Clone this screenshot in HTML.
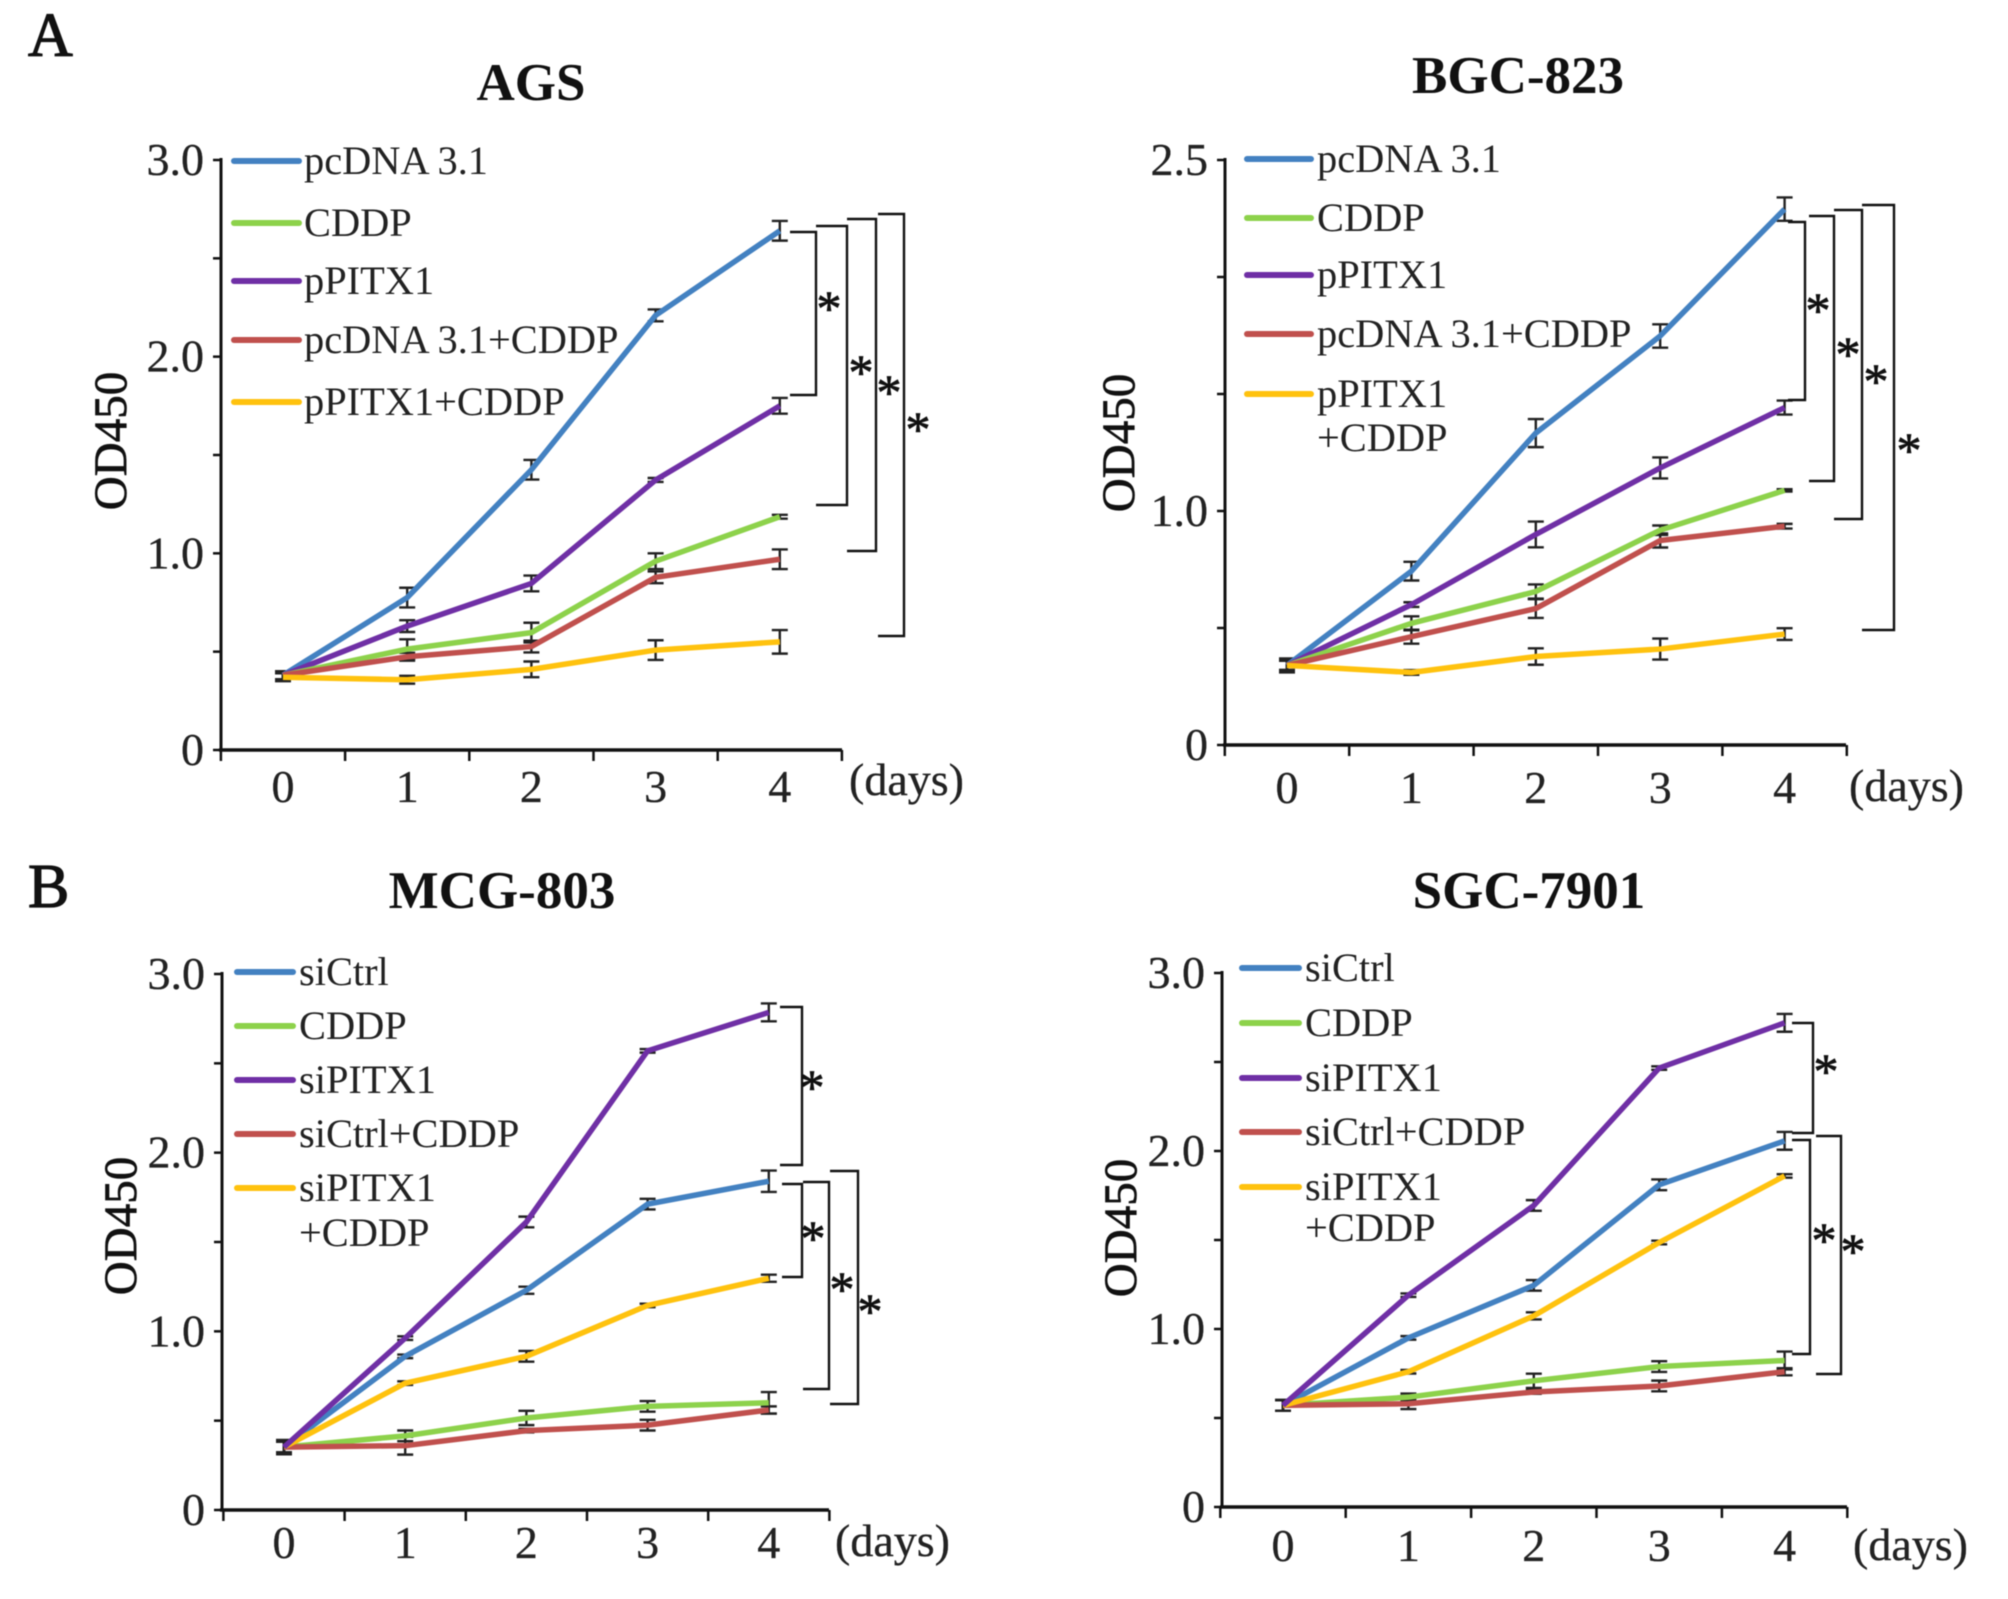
<!DOCTYPE html>
<html lang="en">
<head>
<meta charset="utf-8">
<title>OD450 proliferation curves</title>
<style>
html,body{margin:0;padding:0;background:#fff;}
svg{display:block;font-family:"Liberation Serif",serif;filter:blur(0.6px);}
</style>
</head>
<body>
<svg id="figure" xmlns="http://www.w3.org/2000/svg" width="2008" height="1599" viewBox="0 0 2008 1599"></svg>
<script>
// ---- shared categories ----
const days = [0, 1, 2, 3, 4];

// ---- AGS ----
const agsLabels = ['pcDNA 3.1', 'CDDP', 'pPITX1', 'pcDNA 3.1+CDDP', 'pPITX1+CDDP'];
const agsYTicks = [0, 0.5, 1, 1.5, 2, 2.5, 3];
const agsYLabels = ['0', '', '1.0', '', '2.0', '', '3.0'];
const agsPcdna = [0.38, 0.775, 1.425, 2.21, 2.64];
const agsCddp = [0.38, 0.513, 0.597, 0.96, 1.186];
const agsPitx = [0.38, 0.63, 0.847, 1.373, 1.75];
const agsPcdnaCddp = [0.38, 0.474, 0.526, 0.878, 0.97];
const agsPitxCddp = [0.37, 0.357, 0.41, 0.508, 0.55];
const agsPcdnaErr = [0.02, 0.05, 0.05, 0.03, 0.05];
const agsCddpErr = [0.02, 0.05, 0.05, 0.04, 0.01];
const agsPitxErr = [0.02, 0.03, 0.04, 0.01, 0.04];
const agsPcdnaCddpErr = [0.02, 0.02, 0.03, 0.03, 0.05];
const agsPitxCddpErr = [0.02, 0.02, 0.04, 0.05, 0.06];

// ---- BGC-823 ----
const bgcLabels = ['pcDNA 3.1', 'CDDP', 'pPITX1', 'pcDNA 3.1+CDDP', 'pPITX1|+CDDP'];
const bgcYTicks = [0, 0.5, 1, 1.5, 2, 2.5];
const bgcYLabels = ['0', '', '1.0', '', '', '2.5'];
const bgcPcdna = [0.34, 0.743, 1.333, 1.748, 2.29];
const bgcCddp = [0.34, 0.52, 0.656, 0.918, 1.088];
const bgcPitx = [0.34, 0.6, 0.9, 1.184, 1.442];
const bgcPcdnaCddp = [0.34, 0.463, 0.583, 0.874, 0.935];
const bgcPitxCddp = [0.34, 0.31, 0.378, 0.41, 0.474];
const bgcPcdnaErr = [0.02, 0.04, 0.06, 0.05, 0.05];
const bgcCddpErr = [0.02, 0.03, 0.03, 0.02, 0.005];
const bgcPitxErr = [0.02, 0.01, 0.055, 0.045, 0.03];
const bgcPcdnaCddpErr = [0.02, 0.03, 0.04, 0.03, 0.01];
const bgcPitxCddpErr = [0.03, 0.01, 0.035, 0.045, 0.025];

// ---- MCG-803 ----
const mcgLabels = ['siCtrl', 'CDDP', 'siPITX1', 'siCtrl+CDDP', 'siPITX1|+CDDP'];
const mcgYTicks = [0, 0.5, 1, 1.5, 2, 2.5, 3];
const mcgYLabels = ['0', '', '1.0', '', '2.0', '', '3.0'];
const mcgCtrl = [0.352, 0.86, 1.23, 1.712, 1.84];
const mcgCddp = [0.352, 0.415, 0.515, 0.58, 0.6];
const mcgPitx = [0.352, 0.962, 1.612, 2.57, 2.785];
const mcgCtrlCddp = [0.352, 0.36, 0.444, 0.475, 0.56];
const mcgPitxCddp = [0.352, 0.71, 0.86, 1.145, 1.297];
const mcgCtrlErr = [0.03, 0.01, 0.02, 0.03, 0.06];
const mcgCddpErr = [0.03, 0.03, 0.04, 0.03, 0.06];
const mcgPitxErr = [0.03, 0.01, 0.03, 0.01, 0.05];
const mcgCtrlCddpErr = [0.04, 0.05, 0.01, 0.03, 0.02];
const mcgPitxCddpErr = [0.03, 0.01, 0.03, 0.01, 0.02];

// ---- SGC-7901 ----
const sgcLabels = ['siCtrl', 'CDDP', 'siPITX1', 'siCtrl+CDDP', 'siPITX1|+CDDP'];
const sgcYTicks = [0, 0.5, 1, 1.5, 2, 2.5, 3];
const sgcYLabels = ['0', '', '1.0', '', '2.0', '', '3.0'];
const sgcCtrl = [0.571, 0.95, 1.245, 1.81, 2.057];
const sgcCddp = [0.571, 0.617, 0.709, 0.789, 0.823];
const sgcPitx = [0.571, 1.19, 1.694, 2.466, 2.72];
const sgcCtrlCddp = [0.571, 0.58, 0.646, 0.68, 0.76];
const sgcPitxCddp = [0.571, 0.76, 1.074, 1.486, 1.86];
const sgcCtrlErr = [0.03, 0.01, 0.03, 0.03, 0.05];
const sgcCddpErr = [0.03, 0.02, 0.04, 0.03, 0.05];
const sgcPitxErr = [0.03, 0.01, 0.03, 0.01, 0.05];
const sgcCtrlCddpErr = [0.03, 0.03, 0.01, 0.03, 0.02];
const sgcPitxCddpErr = [0.03, 0.01, 0.02, 0.01, 0.01];

const BLUE = '#4381c1', GREEN = '#8dd24b', PURPLE = '#6f2fa5', RED = '#c0504d', YELLOW = '#ffc20e';
const NS = 'http://www.w3.org/2000/svg';
const root = document.getElementById('figure');

function make(parent, tag, props, content) {
  const n = document.createElementNS(NS, tag);
  for (const k in props) n.setAttribute(k, props[k]);
  if (content !== undefined) n.textContent = content;
  parent.appendChild(n);
  return n;
}

const panels = [
  { key: 'ags', title: 'AGS', tx: 531, ty: 100, ox: 221, ow: 621, top: 160, bottom: 750, yMax: 3, px0: 283, pStep: 124.2, labelDy: 52,
    yTicks: agsYTicks, yLabels: agsYLabels, labels: agsLabels,
    series: [[agsPcdna, agsPcdnaErr, BLUE], [agsCddp, agsCddpErr, GREEN], [agsPitx, agsPitxErr, PURPLE], [agsPcdnaCddp, agsPcdnaCddpErr, RED], [agsPitxCddp, agsPitxCddpErr, YELLOW]],
    drawOrder: [0, 2, 1, 3, 4],
    yl: [110, 441], legLine: [234, 299], legX: 304, legY: [161, 223, 281, 340, 402], lineTwo: null,
    brackets: [[790, 816, 232, 395], [816, 847, 226, 505], [847, 876, 219, 551], [878, 904, 214, 636]],
    stars: [[829, 302], [861, 366], [889, 386], [918, 423]], days: [849, 795] },
  { key: 'bgc', title: 'BGC-823', tx: 1518, ty: 93, ox: 1225, ow: 621, top: 160, bottom: 745, yMax: 2.5, px0: 1287, pStep: 124.4, labelDy: 58,
    yTicks: bgcYTicks, yLabels: bgcYLabels, labels: bgcLabels,
    series: [[bgcPcdna, bgcPcdnaErr, BLUE], [bgcCddp, bgcCddpErr, GREEN], [bgcPitx, bgcPitxErr, PURPLE], [bgcPcdnaCddp, bgcPcdnaCddpErr, RED], [bgcPitxCddp, bgcPitxCddpErr, YELLOW]],
    drawOrder: [0, 2, 1, 3, 4],
    yl: [1118, 443], legLine: [1247, 1311], legX: 1317, legY: [159, 218, 275, 334, 394], lineTwo: 438,
    brackets: [[1788, 1805, 222, 400], [1809, 1834, 216, 481], [1834, 1862, 210, 519], [1862, 1894, 205, 630]],
    stars: [[1818, 304], [1848, 348], [1876, 375], [1909, 444]], days: [1849, 801] },
  { key: 'mcg', title: 'MCG-803', tx: 502, ty: 908, ox: 222, ow: 607, top: 974, bottom: 1510, yMax: 3, px0: 284, pStep: 121.2, labelDy: 48,
    yTicks: mcgYTicks, yLabels: mcgYLabels, labels: mcgLabels,
    series: [[mcgCtrl, mcgCtrlErr, BLUE], [mcgCddp, mcgCddpErr, GREEN], [mcgPitx, mcgPitxErr, PURPLE], [mcgCtrlCddp, mcgCtrlCddpErr, RED], [mcgPitxCddp, mcgPitxCddpErr, YELLOW]],
    drawOrder: [1, 3, 0, 4, 2],
    yl: [120, 1226], legLine: [237, 293], legX: 299, legY: [972, 1026, 1080, 1134, 1188], lineTwo: 1233,
    brackets: [[780, 802, 1007, 1165], [782, 802, 1184, 1277], [803, 829, 1182, 1389], [830, 858, 1171, 1404]],
    stars: [[812, 1081], [813, 1232], [842, 1283], [870, 1305]], days: [835, 1556] },
  { key: 'sgc', title: 'SGC-7901', tx: 1529, ty: 908, ox: 1222, ow: 625, top: 973, bottom: 1507, yMax: 3, px0: 1283, pStep: 125.4, labelDy: 54,
    yTicks: sgcYTicks, yLabels: sgcYLabels, labels: sgcLabels,
    series: [[sgcCtrl, sgcCtrlErr, BLUE], [sgcCddp, sgcCddpErr, GREEN], [sgcPitx, sgcPitxErr, PURPLE], [sgcCtrlCddp, sgcCtrlCddpErr, RED], [sgcPitxCddp, sgcPitxCddpErr, YELLOW]],
    drawOrder: [1, 3, 0, 4, 2],
    yl: [1120, 1228], legLine: [1242, 1299], legX: 1305, legY: [968, 1023, 1078, 1132, 1187], lineTwo: 1228,
    brackets: [[1792, 1813, 1023, 1133], [1792, 1810, 1140, 1354], [1816, 1841, 1136, 1374]],
    stars: [[1826, 1065], [1824, 1234], [1853, 1245]], days: [1853, 1560] }
];

function drawPanel(p) {
  const g = make(root, 'g', {});
  
  

  const scaleY = v => p.bottom - (v / p.yMax) * (p.bottom - p.top);
  const scaleX = d => p.px0 + d * p.pStep;

  const title = make(g, 'text', { x: p.tx, y: p.ty, 'text-anchor': 'middle', 'font-size': 53, 'font-weight': 'bold', fill: '#111' }, p.title);
  
  

  const yTitle = make(g, 'text', { x: 0, y: 0, transform: 'translate(' + (p.yl[0] + 16) + ' ' + p.yl[1] + ') rotate(-90)', 'text-anchor': 'middle', 'font-size': 47, fill: '#111', stroke: '#111', 'stroke-width': 0.7 }, 'OD450');
  
  

  const xAxis = make(g, 'line', { x1: p.ox - 2, x2: p.ox + p.ow, y1: p.bottom, y2: p.bottom, stroke: '#111', 'stroke-width': 3.5 });
  
  
  const yAxis = make(g, 'line', { x1: p.ox, x2: p.ox, y1: p.top - 2, y2: p.bottom, stroke: '#111', 'stroke-width': 3 });
  
  

  p.yTicks.forEach((t, i) => {
    const tick = make(g, 'line', { x1: p.ox - 8, x2: p.ox, y1: scaleY(t), y2: scaleY(t), stroke: '#111', 'stroke-width': 2.5 });
    
    
    if (p.yLabels[i]) {
      const lab = make(g, 'text', { x: p.ox - 17, y: scaleY(t) + 15, 'text-anchor': 'end', 'font-size': 46, fill: '#222', stroke: '#222', 'stroke-width': 0.3 }, p.yLabels[i]);
      
      
    }
  });

  for (let i = 0; i <= days.length; i++) {
    const tx = scaleX(i - 0.5);
    const tick = make(g, 'line', { x1: tx, x2: tx, y1: p.bottom, y2: p.bottom + 11, stroke: '#111', 'stroke-width': 2.5 });
    
    
  }
  days.forEach(d => {
    const lab = make(g, 'text', { x: scaleX(d), y: p.bottom + p.labelDy, 'text-anchor': 'middle', 'font-size': 46, fill: '#222', stroke: '#222', 'stroke-width': 0.3 }, String(d));
    
    
  });
  const unit = make(g, 'text', { x: p.days[0], y: p.days[1], 'font-size': 46, fill: '#222', stroke: '#222', 'stroke-width': 0.3 }, '(days)');
  
  

  // error bars first, then series lines
  p.series.forEach(s => {
    s[0].forEach((v, i) => {
      const x = scaleX(days[i]), e = s[1][i];
      const path = 'M' + x + ' ' + scaleY(v - e) + 'V' + scaleY(v + e) +
        'M' + (x - 8) + ' ' + scaleY(v - e) + 'H' + (x + 8) +
        'M' + (x - 8) + ' ' + scaleY(v + e) + 'H' + (x + 8);
      const bar = make(g, 'path', { d: path, stroke: '#222', 'stroke-width': 2.4, fill: 'none' });
      
      
    });
  });
  p.drawOrder.forEach(idx => {
    const s = p.series[idx];
    const pts = s[0].map((v, i) => scaleX(days[i]) + ',' + scaleY(v)).join(' ');
    const line = make(g, 'polyline', { points: pts, fill: 'none', stroke: s[2], 'stroke-width': 5.5, 'stroke-linejoin': 'round' });
    
    
  });

  // legend
  p.labels.forEach((label, i) => {
    const ly = p.legY[i];
    const swatch = make(g, 'line', { x1: p.legLine[0], x2: p.legLine[1], y1: ly, y2: ly, stroke: p.series[i][2], 'stroke-width': 6, 'stroke-linecap': 'round' });
    
    
    const parts = label.split('|');
    const txt = make(g, 'text', { x: p.legX, y: ly + 13, 'font-size': 40.4, fill: '#222' }, parts[0]);
    
    
    if (parts[1]) {
      const txt2 = make(g, 'text', { x: p.legX, y: p.lineTwo + 13, 'font-size': 40.4, fill: '#222' }, parts[1]);
      
      
    }
  });

  // significance brackets and stars
  p.brackets.forEach(b => {
    const br = make(g, 'path', { d: 'M' + b[0] + ' ' + b[2] + 'H' + b[1] + 'V' + b[3] + 'H' + b[0], fill: 'none', stroke: '#111', 'stroke-width': 2.4 });
    
    
  });
  p.stars.forEach(s => {
    const st = make(g, 'text', { x: s[0], y: s[1] + 23, 'text-anchor': 'middle', 'font-size': 50, fill: '#111', stroke: '#111', 'stroke-width': 0.8 }, '*');
    
    
  });
}

panels.forEach(drawPanel);

const panelA = make(root, 'text', { x: 28, y: 56, 'font-size': 62, fill: '#111', stroke: '#111', 'stroke-width': 1.2 }, 'A');


const panelB = make(root, 'text', { x: 28, y: 907, 'font-size': 62, fill: '#111', stroke: '#111', 'stroke-width': 1.2 }, 'B');


</script>
</body>
</html>
